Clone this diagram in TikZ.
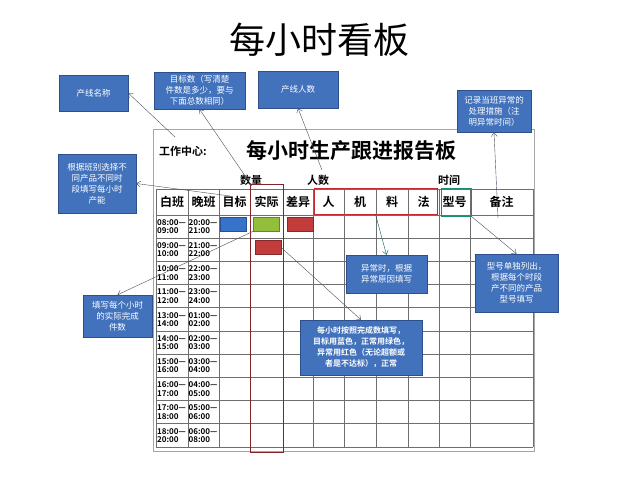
\documentclass[tikz,border=0pt]{standalone}
\usepackage{fontspec}
\setmainfont{Noto Sans CJK SC}[BoldFont={Noto Sans CJK SC Bold}]
\usetikzlibrary{arrows.meta,calc}
\definecolor{noteblue}{RGB}{66,114,188}
\definecolor{noteedge}{RGB}{45,80,140}
\definecolor{gridgray}{RGB}{110,110,110}
\definecolor{markblue}{RGB}{55,115,200}
\definecolor{markgreen}{RGB}{146,190,60}
\definecolor{markred}{RGB}{195,60,60}
\definecolor{boxred}{RGB}{200,40,50}
\definecolor{boxdark}{RGB}{130,35,40}
\definecolor{boxteal}{RGB}{30,140,110}
\definecolor{pointer}{RGB}{70,80,95}

\begin{document}
\begin{tikzpicture}[x=1pt,y=-1pt,>={Straight Barb[length=4pt,width=6pt]},
    note/.style={draw=noteedge,fill=noteblue,text=white,align=center,inner sep=1pt,font=\fontsize{8.5}{11}\selectfont},
    gridline/.style={draw=gridgray,line width=0.7pt},
    head/.style={font=\bfseries\fontsize{12}{12}\selectfont,inner sep=0},
    tm/.style={font=\bfseries\fontsize{8}{8.5}\selectfont,align=left,inner sep=0,anchor=west},
    swatch/.style={minimum width=26pt,minimum height=14pt,inner sep=0}]
    \useasboundingbox (0,0) rectangle (640,480);
    \node[font=\fontsize{36}{36}\selectfont] (title) at (319,40) {每小时看板};
    \draw[gray!70,line width=1pt] (153,129) rectangle (534,451);
    \node[font=\bfseries\fontsize{11}{11}\selectfont,anchor=west,inner sep=0] (center) at (159,151) {工作中心:};
    \node[font=\bfseries\fontsize{21}{21}\selectfont] (board) at (351,151) {每小时生产跟进报告板};
    \node[head,font=\bfseries\fontsize{11}{11}\selectfont] (qty) at (251,180) {数量};
    \node[head,font=\bfseries\fontsize{11}{11}\selectfont] (staff) at (318,180) {人数};
    \node[head,font=\bfseries\fontsize{11}{11}\selectfont] (time) at (449,180) {时间};
    \foreach \x in {156,188,219,250,283,313,344,376,408,439,470,533}
      \draw[gridline] (\x,189) -- (\x,447);
    \draw[gridline] (156,189) -- (533,189);
    \foreach \k in {0,...,10}
      \draw[gridline] (156,{215+23.2*\k}) -- (533,{215+23.2*\k});
    \foreach \t/\x [count=\k] in {白班/172,晚班/203.5,目标/234.5,实际/266.5,差异/298,人/328.5,机/360,料/392,法/423.5,型号/454.5,备注/501.5}
      \node[head] (h\k) at (\x,202) {\t};
    \foreach \a/\b/\c/\d [count=\k from 0] in {08/09/20/21,09/10/21/22,10/11/22/23,11/12/23/24,13/14/01/02,14/15/02/03,15/16/03/04,16/17/04/05,17/18/05/06,18/20/06/08} {
      \node[tm] (day\k) at (157,{226.6+23.2*\k}) {\a:00—\\\b:00};
      \node[tm] (night\k) at (188.5,{226.6+23.2*\k}) {\c:00—\\\d:00};
    }
    \node[swatch,fill=markblue,draw=markblue!70!black] (tgt) at (233,224) {};
    \node[swatch,fill=markgreen,draw=markgreen!70!black] (ok) at (266.5,224) {};
    \node[swatch,fill=markred,draw=markred!70!black] (diff) at (300,224) {};
    \node[swatch,fill=markred,draw=markred!70!black] (bad) at (268,247.5) {};
    \node[draw=boxdark,line width=1pt,minimum width=33pt,minimum height=268pt,inner sep=0] (actual) at (266.5,318) {};
    \node[draw=boxred,line width=1pt,minimum width=123pt,minimum height=26pt,inner sep=0] (fourm) at (375.5,201) {};
    \node[draw=boxteal,line width=1pt,minimum width=30pt,minimum height=28pt,inner sep=0] (model) at (456,202) {};
    \node[note,minimum width=69pt,minimum height=36pt] (linename) at (93.5,93) {产线名称};
    \node[note,minimum width=91pt,minimum height=37pt] (target) at (199.5,90.5) {目标数（写清楚\\件数是多少，要与\\下面总数相同）};
    \node[note,minimum width=80pt,minimum height=37pt] (people) at (298,89.5) {产线人数};
    \node[note,minimum width=74pt,minimum height=42pt] (abnormal) at (494,111) {记录当班异常的\\处理措施（注\\明异常时间）};
    \node[note,minimum width=78pt,minimum height=59pt] (capacity) at (97,183.5) {根据班别选择不\\同产品不同时\\段填写每小时\\产能};
    \node[note,minimum width=69pt,minimum height=42pt] (output) at (117.5,316) {填写每个小时\\的实际完成\\件数};
    \node[note,minimum width=81pt,minimum height=38pt] (reason) at (386.5,274) {异常时，根据\\异常原因填写};
    \node[note,minimum width=83pt,minimum height=58pt] (modelnote) at (516.5,283) {型号单独列出，\\根据每个时段\\产不同的产品\\型号填写};
    \node[note,minimum width=122pt,minimum height=55pt,font=\bfseries\fontsize{8}{11}\selectfont] (colors) at (361,347.5) {每小时按照完成数填写，\\目标用蓝色，正常用绿色，\\异常用红色（无论超额或\\者是不达标），正常};
    \coordinate (c1) at (175,137);
    \coordinate (c2) at (252,186);
    \coordinate (c3) at (322,170);
    \coordinate (c4) at (498,218);
    \coordinate (c5) at (230,196);
    \draw[->,pointer] (c1) -- (linename.east);
    \draw[->,pointer] (c2) -- (target.south);
    \draw[->,pointer] (c3) -- (people.south);
    \draw[->,pointer] (c4) -- (abnormal.south);
    \draw[->,pointer] (c5) -- (capacity.east);
    \draw[->,pointer] (ok.south west) -- (output.north);
    \draw[->,teal!70!black] (fourm.south) -- (reason.north);
    \draw[->,pointer] (model.south east) -- (modelnote.north);
    \draw[->,pointer] (bad.east) -- (colors.north);
  \end{tikzpicture}
\end{document}
